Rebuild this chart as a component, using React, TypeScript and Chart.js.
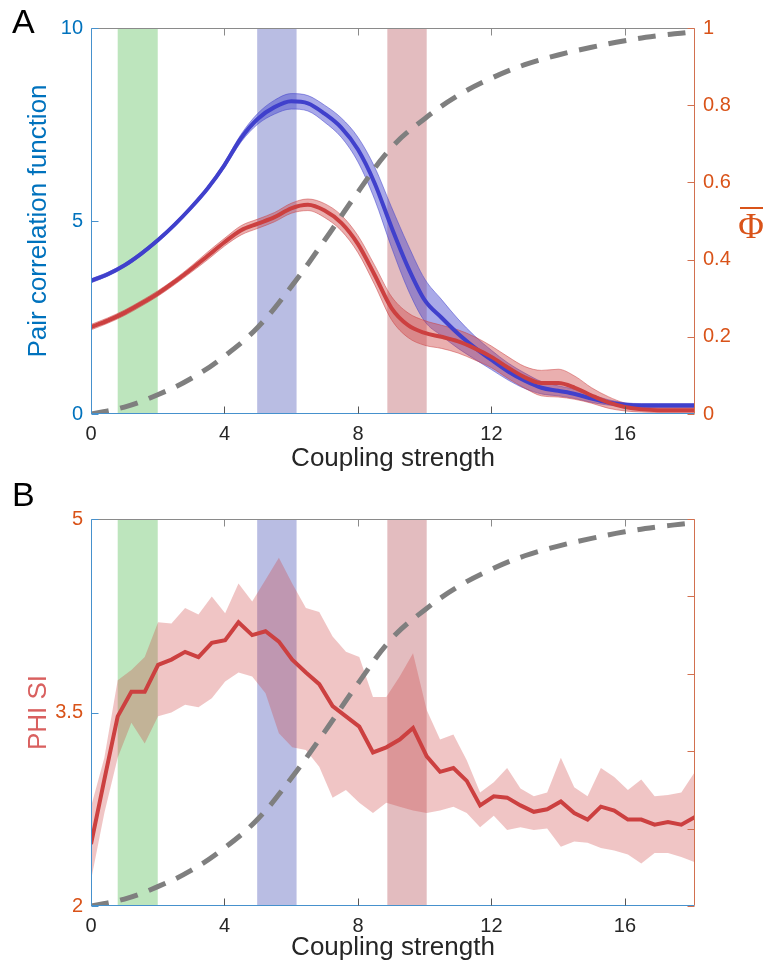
import React, { useEffect, useRef } from 'react';
import { Chart, registerables } from 'chart.js';

Chart.register(...registerables);

// ---------- shared ----------
const xMin = 0;
const xMax = 18.1;
const xTicks = [0, 4, 8, 12, 16];

// highlighted coupling ranges
const bandStarts = [0.8, 4.98, 8.88];
const bandEnds = [2.0, 6.16, 10.06];
const bandColors = ['rgba(123,203,123,0.5)', 'rgba(115,123,199,0.5)', 'rgba(199,121,127,0.5)'];

// order parameter Φ (dashed, right axis)
const phiX = [0, 1, 2, 3, 4, 5, 6, 7, 8, 9, 10, 11, 12, 13, 14, 15, 16, 17, 18, 18.1];
const phiY = [0, 0.018, 0.05, 0.092, 0.15, 0.225, 0.33, 0.45, 0.575, 0.69, 0.765, 0.825, 0.87, 0.905, 0.93, 0.95, 0.967, 0.98, 0.99, 0.993];

// ---------- panel A ----------
const pcfX = [0, 0.5, 1, 1.5, 2, 2.5, 3, 3.5, 4, 4.5, 5, 5.5, 6, 6.5, 7, 7.5, 8, 8.5, 9, 9.5, 10, 10.5, 11, 11.5, 12, 12.5, 13, 13.5, 14, 14.5, 15, 15.5, 16, 16.5, 17, 17.5, 18, 18.1];
const pcfBlue = [3.45, 3.62, 3.85, 4.15, 4.5, 4.9, 5.35, 5.85, 6.45, 7.15, 7.65, 7.95, 8.1, 8.05, 7.78, 7.42, 6.85, 5.98, 4.85, 3.8, 2.95, 2.5, 2.08, 1.72, 1.4, 1.1, 0.86, 0.68, 0.6, 0.52, 0.4, 0.3, 0.24, 0.22, 0.22, 0.22, 0.22, 0.22];
const pcfBlueErr = [0.05, 0.05, 0.05, 0.05, 0.05, 0.05, 0.05, 0.05, 0.07, 0.1, 0.14, 0.18, 0.2, 0.2, 0.22, 0.25, 0.32, 0.42, 0.52, 0.58, 0.55, 0.47, 0.38, 0.3, 0.25, 0.22, 0.2, 0.16, 0.13, 0.12, 0.1, 0.07, 0.05, 0.05, 0.05, 0.05, 0.05, 0.05];
const pcfRed = [2.25, 2.42, 2.62, 2.86, 3.12, 3.42, 3.75, 4.1, 4.45, 4.76, 4.93, 5.1, 5.33, 5.42, 5.27, 4.95, 4.4, 3.6, 2.75, 2.3, 2.1, 2.0, 1.88, 1.7, 1.48, 1.2, 0.95, 0.8, 0.8, 0.68, 0.48, 0.3, 0.18, 0.12, 0.1, 0.1, 0.1, 0.1];
const pcfRedErr = [0.07, 0.07, 0.07, 0.07, 0.07, 0.07, 0.08, 0.1, 0.1, 0.12, 0.12, 0.12, 0.13, 0.15, 0.18, 0.2, 0.22, 0.25, 0.3, 0.32, 0.32, 0.3, 0.3, 0.3, 0.28, 0.28, 0.28, 0.33, 0.36, 0.3, 0.2, 0.15, 0.1, 0.07, 0.06, 0.06, 0.06, 0.06];
const aLeftTicks = [0, 5, 10];
const aRightTicks = [0, 0.2, 0.4, 0.6, 0.8, 1];

// ---------- panel B ----------
const siX = [0, 0.4, 0.8, 1.21, 1.61, 2.01, 2.41, 2.82, 3.22, 3.62, 4.02, 4.42, 4.83, 5.23, 5.63, 6.03, 6.44, 6.84, 7.24, 7.64, 8.04, 8.45, 8.85, 9.25, 9.65, 10.06, 10.46, 10.86, 11.26, 11.66, 12.07, 12.47, 12.87, 13.27, 13.67, 14.08, 14.48, 14.88, 15.28, 15.68, 16.09, 16.49, 16.89, 17.29, 17.69, 18.1];
const siMean = [2.48, 2.98, 3.47, 3.66, 3.66, 3.87, 3.91, 3.97, 3.93, 4.04, 4.06, 4.2, 4.1, 4.13, 4.05, 3.91, 3.81, 3.72, 3.55, 3.47, 3.39, 3.19, 3.23, 3.29, 3.38, 3.16, 3.04, 3.07, 2.97, 2.78, 2.85, 2.84, 2.78, 2.73, 2.75, 2.81, 2.72, 2.67, 2.77, 2.74, 2.67, 2.67, 2.63, 2.65, 2.63, 2.69];
const siUpper = [2.77, 3.15, 3.75, 3.83, 3.93, 4.2, 4.19, 4.31, 4.26, 4.4, 4.27, 4.5, 4.36, 4.53, 4.7, 4.5, 4.31, 4.28, 4.09, 3.97, 3.93, 3.62, 3.62, 3.78, 3.96, 3.52, 3.29, 3.33, 3.13, 2.88, 2.96, 3.07, 2.91, 2.85, 2.88, 3.15, 2.92, 2.85, 3.07, 3.0, 2.9, 2.98, 2.85, 2.86, 2.88, 3.04];
const siLower = [2.2, 2.72, 3.15, 3.42, 3.26, 3.47, 3.5, 3.56, 3.54, 3.61, 3.74, 3.81, 3.78, 3.65, 3.34, 3.23, 3.21, 3.08, 2.84, 2.9, 2.8, 2.72, 2.8, 2.77, 2.74, 2.72, 2.74, 2.77, 2.72, 2.61, 2.7, 2.59, 2.61, 2.59, 2.6, 2.46, 2.5, 2.49, 2.45, 2.43, 2.4, 2.33, 2.41, 2.41, 2.38, 2.34];
const bLeftTicks = [2, 3.5, 5];
const bRightTicks = [0, 0.2, 0.4, 0.6, 0.8, 1];

// ---------- styles ----------
const FONT = '"Liberation Sans", Arial, Helvetica, sans-serif';
const BLUE_TXT = '#0072BD';
const ORANGE = '#D95319';
const DARK = '#262626';
const GRAY_DASH = '#7f7f7f';
const LINE_BLUE = '#4040CC';
const LINE_RED = '#CC4040';
const SHADE_BLUE = 'rgba(64,64,204,0.45)';
const SHADE_RED = 'rgba(204,64,64,0.42)';
const SHADE_RED_B = 'rgba(204,64,64,0.3)';
const AX_BLUE = 'rgb(70,145,205)';
const AX_ORANGE = '#d2704f';
const AX_GRAY = '#8a8a8a';
const TICK_DARK = '#555555';

const W = 769;
const TOP_H = 480;
const BOT_H = 491;
const LEFT_W = 91;
const RIGHT_W = 74;

const pts = (xs: number[], ys: number[]) => xs.map((x, i) => ({ x, y: ys[i] }));

type FrameCfg = {
  letter: string;
  letterY: number;
  leftTicks: number[];
  rightTicks: number[];
  phiLabel: boolean;
};

function makeFrame(cfg: FrameCfg) {
  return {
    id: 'frame',
    beforeDatasetsDraw(chart: any) {
      const { ctx, chartArea: a, scales } = chart;
      ctx.save();
      bandStarts.forEach((s, i) => {
        const x1 = scales.x.getPixelForValue(s);
        const x2 = scales.x.getPixelForValue(bandEnds[i]);
        ctx.fillStyle = bandColors[i];
        ctx.fillRect(x1, a.top, x2 - x1, a.bottom - a.top);
      });
      ctx.restore();
    },
    afterDraw(chart: any) {
      const { ctx, chartArea: a, scales } = chart;
      const L = Math.round(a.left) + 0.5;
      const R = Math.round(a.right) - 0.5;
      const T = Math.round(a.top) + 0.5;
      const B = Math.round(a.bottom) - 0.5;
      const TL = 7;
      ctx.save();
      ctx.lineWidth = 1;
      const seg = (x1: number, y1: number, x2: number, y2: number, c: string) => {
        ctx.strokeStyle = c;
        ctx.beginPath();
        ctx.moveTo(x1, y1);
        ctx.lineTo(x2, y2);
        ctx.stroke();
      };
      seg(L, T, R, T, AX_GRAY);
      seg(L, B, R, B, AX_BLUE);
      seg(L, T, L, B, AX_BLUE);
      seg(R, T, R, B, AX_ORANGE);
      xTicks.forEach((v) => {
        if (v === xMin) return;
        const x = Math.round(scales.x.getPixelForValue(v)) + 0.5;
        seg(x, B, x, B - TL, TICK_DARK);
        seg(x, T, x, T + TL, AX_GRAY);
      });
      cfg.leftTicks.forEach((v) => {
        const y = Math.round(scales.y.getPixelForValue(v)) + 0.5;
        seg(L, y, L + TL, y, AX_BLUE);
      });
      cfg.rightTicks.forEach((v) => {
        const y = Math.round(scales.y1.getPixelForValue(v)) + 0.5;
        seg(R - TL, y, R, y, AX_ORANGE);
      });
      // panel letter
      ctx.fillStyle = '#000';
      ctx.font = `34px ${FONT}`;
      ctx.textAlign = 'left';
      ctx.textBaseline = 'alphabetic';
      ctx.fillText(cfg.letter, 12, cfg.letterY);
      if (cfg.phiLabel) {
        ctx.fillStyle = ORANGE;
        ctx.font = '35px "Liberation Serif", "Times New Roman", serif';
        ctx.textAlign = 'center';
        ctx.fillText('Φ', 751, 238);
        ctx.fillRect(740, 207, 23, 2);
      }
      ctx.restore();
    },
  };
}

function xScale(height: number, titlePad: number) {
  return {
    type: 'linear',
    min: xMin,
    max: xMax,
    grid: { display: false, drawTicks: false },
    border: { display: false },
    afterBuildTicks: (s: any) => {
      s.ticks = xTicks.map((v) => ({ value: v }));
    },
    afterFit: (s: any) => {
      s.height = height;
    },
    ticks: {
      padding: 8,
      color: DARK,
      font: { family: FONT, size: 20 },
      maxRotation: 0,
      autoSkip: false,
      callback: (v: any) => String(v),
    },
    title: {
      display: true,
      text: 'Coupling strength',
      color: DARK,
      font: { family: FONT, size: 26 },
      padding: { top: 0, bottom: titlePad },
    },
  };
}

function yScale(position: string, min: number, max: number, tickVals: number[], width: number, color: string, showLabels: boolean, title?: { text: string; color: string }) {
  return {
    type: 'linear',
    position,
    min,
    max,
    grid: { display: false, drawTicks: false },
    border: { display: false },
    afterBuildTicks: (s: any) => {
      s.ticks = tickVals.map((v) => ({ value: v }));
    },
    afterFit: (s: any) => {
      s.width = width;
    },
    ticks: {
      display: showLabels,
      padding: 8,
      color,
      font: { family: FONT, size: 20 },
      autoSkip: false,
      callback: (v: any) => String(v),
    },
    title: title
      ? {
          display: true,
          text: title.text,
          color: title.color,
          font: { family: FONT, size: 26 },
          padding: { top: 23, bottom: 0 },
        }
      : { display: false },
  };
}

function topConfig(): any {
  const redUp = pcfRed.map((v, i) => v + pcfRedErr[i]);
  const redLo = pcfRed.map((v, i) => v - pcfRedErr[i]);
  const blueUp = pcfBlue.map((v, i) => v + pcfBlueErr[i]);
  const blueLo = pcfBlue.map((v, i) => v - pcfBlueErr[i]);
  const smooth = { pointRadius: 0, cubicInterpolationMode: 'monotone' };
  return {
    type: 'line',
    data: {
      datasets: [
        { label: 'Φ', data: pts(phiX, phiY), yAxisID: 'y1', borderColor: GRAY_DASH, borderWidth: 5, borderDash: [18, 12], pointRadius: 0, tension: 0.4, fill: false },
        { label: 'red', data: pts(pcfX, pcfRed), yAxisID: 'y', borderColor: LINE_RED, borderWidth: 4, fill: false, ...smooth },
        { label: 'blue', data: pts(pcfX, pcfBlue), yAxisID: 'y', borderColor: LINE_BLUE, borderWidth: 4, fill: false, ...smooth },
        { label: 'red up', data: pts(pcfX, redUp), yAxisID: 'y', borderColor: 'rgba(204,64,64,0.5)', borderWidth: 1, backgroundColor: SHADE_RED, fill: '+1', ...smooth },
        { label: 'red lo', data: pts(pcfX, redLo), yAxisID: 'y', borderColor: 'rgba(204,64,64,0.5)', borderWidth: 1, fill: false, ...smooth },
        { label: 'blue up', data: pts(pcfX, blueUp), yAxisID: 'y', borderColor: 'rgba(64,64,204,0.5)', borderWidth: 1, backgroundColor: SHADE_BLUE, fill: '+1', ...smooth },
        { label: 'blue lo', data: pts(pcfX, blueLo), yAxisID: 'y', borderColor: 'rgba(64,64,204,0.5)', borderWidth: 1, fill: false, ...smooth },
      ],
    },
    options: {
      animation: false,
      responsive: false,
      maintainAspectRatio: false,
      events: [],
      layout: { padding: { top: 28, left: 0, right: 0, bottom: 0 } },
      plugins: { legend: { display: false }, tooltip: { enabled: false } },
      scales: {
        x: xScale(TOP_H - 414, 6),
        y: yScale('left', 0, 10, aLeftTicks, LEFT_W, BLUE_TXT, true, { text: 'Pair correlation function', color: BLUE_TXT }),
        y1: yScale('right', 0, 1, aRightTicks, RIGHT_W, ORANGE, true),
      },
    },
    plugins: [makeFrame({ letter: 'A', letterY: 33, leftTicks: aLeftTicks, rightTicks: aRightTicks, phiLabel: true })],
  };
}

function botConfig(): any {
  return {
    type: 'line',
    data: {
      datasets: [
        { label: 'Φ', data: pts(phiX, phiY), yAxisID: 'y1', borderColor: GRAY_DASH, borderWidth: 5, borderDash: [18, 12], pointRadius: 0, tension: 0.4, fill: false },
        { label: 'PHI SI', data: pts(siX, siMean), yAxisID: 'y', borderColor: LINE_RED, borderWidth: 4, pointRadius: 0, tension: 0, fill: false },
        { label: 'upper', data: pts(siX, siUpper), yAxisID: 'y', borderColor: 'rgba(0,0,0,0)', borderWidth: 0, backgroundColor: SHADE_RED_B, pointRadius: 0, tension: 0, fill: '+1' },
        { label: 'lower', data: pts(siX, siLower), yAxisID: 'y', borderColor: 'rgba(0,0,0,0)', borderWidth: 0, pointRadius: 0, tension: 0, fill: false },
      ],
    },
    options: {
      animation: false,
      responsive: false,
      maintainAspectRatio: false,
      events: [],
      layout: { padding: { top: 519 - TOP_H, left: 0, right: 0, bottom: 0 } },
      plugins: { legend: { display: false }, tooltip: { enabled: false } },
      scales: {
        x: xScale(BOT_H - (906 - TOP_H), 8),
        y: yScale('left', 2, 5, bLeftTicks, LEFT_W, ORANGE, true, { text: 'PHI SI', color: '#d9605f' }),
        y1: yScale('right', 0, 1, bRightTicks, RIGHT_W, ORANGE, false),
      },
    },
    plugins: [makeFrame({ letter: 'B', letterY: 506 - TOP_H, leftTicks: bLeftTicks, rightTicks: bRightTicks, phiLabel: false })],
  };
}

export default function App() {
  const topRef = useRef<HTMLCanvasElement | null>(null);
  const botRef = useRef<HTMLCanvasElement | null>(null);

  useEffect(() => {
    document.body.style.margin = '0';
    const c1 = new Chart(topRef.current as HTMLCanvasElement, topConfig());
    const c2 = new Chart(botRef.current as HTMLCanvasElement, botConfig());
    return () => {
      c1.destroy();
      c2.destroy();
    };
  }, []);

  return (
    <div style={{ position: 'absolute', left: 0, top: 0, width: W, height: TOP_H + BOT_H, background: '#fff' }}>
      <canvas ref={topRef} width={W} height={TOP_H} style={{ position: 'absolute', left: 0, top: 0, width: W, height: TOP_H, display: 'block' }} />
      <canvas ref={botRef} width={W} height={BOT_H} style={{ position: 'absolute', left: 0, top: TOP_H, width: W, height: BOT_H, display: 'block' }} />
    </div>
  );
}
